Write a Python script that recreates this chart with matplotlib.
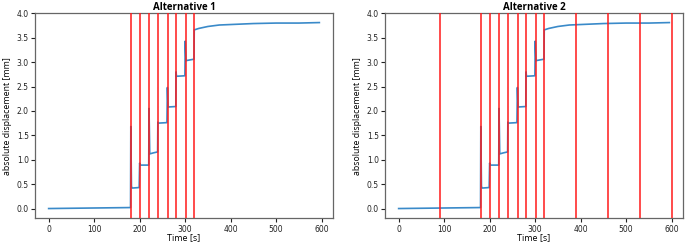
import matplotlib
matplotlib.use("Agg")
import matplotlib.pyplot as plt

# --- data ---
time_s = [0, 90, 180, 180.6, 182.0, 184, 199, 200, 201, 220, 220.6, 222.2, 230, 239.5,
          240, 241, 260, 261, 262.4, 279.5, 280, 281, 299.5, 300.2, 301.8, 319.5,
          320, 330, 350, 375, 400, 450, 500, 550, 595]
displacement_mm = [0.0, 0.01, 0.02, 1.68, 0.45, 0.42, 0.43, 0.93, 0.89, 0.89, 2.05, 1.12, 1.14, 1.16,
                   1.77, 1.75, 1.76, 2.48, 2.08, 2.09, 2.80, 2.71, 2.72, 3.43, 3.03, 3.06,
                   3.66, 3.69, 3.73, 3.76, 3.77, 3.79, 3.80, 3.80, 3.81]

alt1_lines = [181, 200, 221, 240, 263, 280, 301, 320]
alt2_lines = [90, 181, 200, 221, 240, 263, 280, 301, 320, 390, 460, 530, 600]
titles = ["Alternative 1", "Alternative 2"]
yticks = [0.0, 0.5, 1.0, 1.5, 2.0, 2.5, 3.0, 3.5, 4.0]
xticks = [0, 100, 200, 300, 400, 500, 600]

W, H = 685, 242
fig = plt.figure(figsize=(W / 100, H / 100), dpi=100)
label_font = ["Open Sans", "DejaVu Sans"]

lefts = [35, 385]
for left, title, lines in zip(lefts, titles, [alt1_lines, alt2_lines]):
    ax = fig.add_axes([left / W, 23.7 / H, 298 / W, 205 / H])
    ax.plot(time_s, displacement_mm, color="#3a8ac9", lw=1.2, zorder=2)
    for x in lines:
        ax.axvline(x, color="#ff1a1a", lw=1.1, zorder=3)
    ax.set_xlim(-30, 625)
    ax.set_ylim(-0.2, 4.0)
    ax.set_xticks(xticks)
    ax.set_yticks(yticks)
    ax.set_yticklabels([f"{v:.1f}" for v in yticks])
    ax.tick_params(labelsize=5.5, length=3, width=0.8, colors="#222222", pad=1.5)
    for sp in ax.spines.values():
        sp.set_color("#666666")
        sp.set_linewidth(0.9)
    ax.set_title(title, fontsize=7, fontweight="bold", family=label_font, pad=1.5)
    ax.set_xlabel("Time [s]", fontsize=6.5, family=label_font, labelpad=0)
    ax.set_ylabel("absolute displacement [mm]", fontsize=6.3, family=label_font, labelpad=3)

fig.savefig("out.png", dpi=100)
